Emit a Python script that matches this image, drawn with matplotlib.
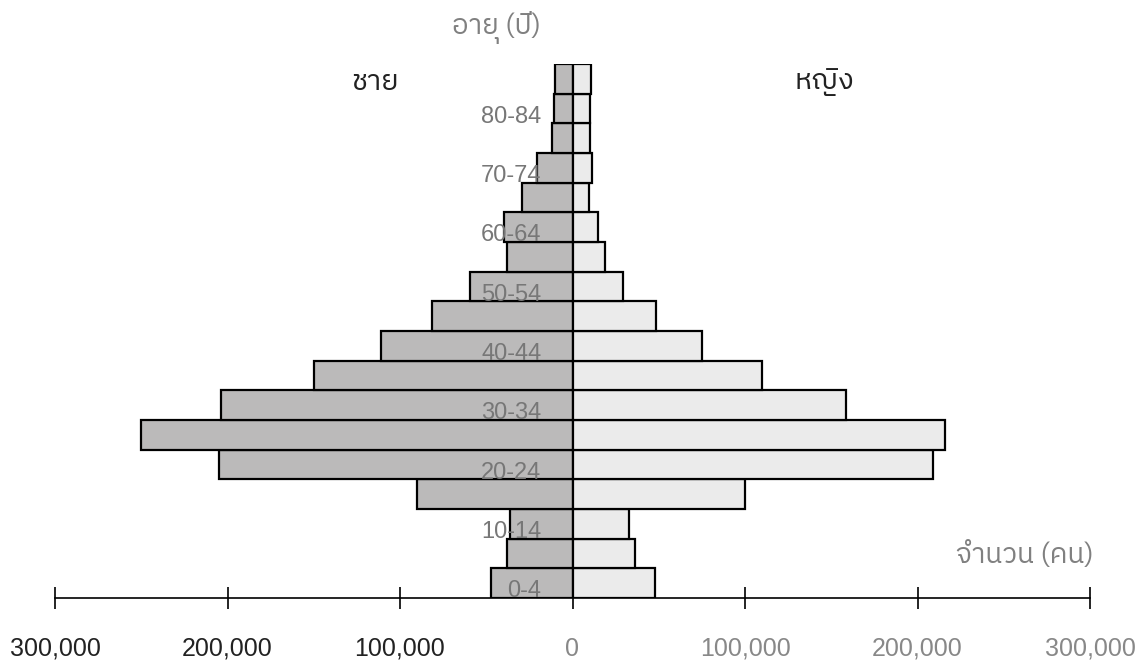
import matplotlib
matplotlib.use("Agg")
import matplotlib.pyplot as plt
from matplotlib import font_manager
from matplotlib.ticker import FuncFormatter
from fontTools.ttLib import TTFont

# age groups and population (persons)
age_groups = ["0-4", "5-9", "10-14", "15-19", "20-24", "25-29", "30-34", "35-39",
              "40-44", "45-49", "50-54", "55-59", "60-64", "65-69", "70-74",
              "75-79", "80-84", "85+"]
male = [47500, 37800, 36300, 90000, 204800, 250000, 204000, 149600,
        111000, 81500, 59200, 37800, 40000, 29300, 20300, 11700, 10500, 9900]
female = [47600, 36300, 32900, 100000, 209000, 216000, 158400, 109700,
          75200, 48600, 29400, 19100, 15000, 9300, 11500, 9900, 9900, 10800]
x_ticks = [-300000, -200000, -100000, 0, 100000, 200000, 300000]

# look for a proportional, regular weight font that can draw Thai
cands = []
for path in font_manager.findSystemFonts():
    try:
        f = TTFont(path, fontNumber=0, lazy=True)
        cmap = f.getBestCmap()
        if cmap and 0x0E0A in cmap and 0x0E0D in cmap and 0x0E34 in cmap:
            cands.append(path)
    except Exception:
        continue

def rank(path):
    score = 0
    if "Thai" in path:
        score -= 10
    if "Regular" in path:
        score -= 5
    for bad in ["Mono", "Code", "Light", "Thin", "Bold", "Black", "Medium",
                "Italic", "Condensed", "Semi", "Extra"]:
        if bad in path:
            score += 20
    return score

cands.sort(key=rank)
num_font = ["Liberation Sans", "DejaVu Sans"]
thai_prop = None
if cands:
    thai_prop = font_manager.FontProperties(fname=cands[0])

fig = plt.figure(figsize=(11.42, 6.66), dpi=100)
ax = fig.add_axes([55 / 1142, 68 / 666, 1035 / 1142, 534 / 666])

ypos = list(range(len(age_groups)))
ax.barh(ypos, [-m for m in male], height=1, align="edge", color="#bbbaba",
        edgecolor="black", linewidth=1.6)
ax.barh(ypos, female, height=1, align="edge", color="#ebebeb",
        edgecolor="black", linewidth=1.6)

ax.set_xlim(-300000, 300000)
ax.set_ylim(0, len(age_groups))

for s in ["top", "left", "right"]:
    ax.spines[s].set_visible(False)
ax.spines["bottom"].set_linewidth(1.2)
ax.set_yticks([])
ax.set_xticks(x_ticks)
ax.xaxis.set_major_formatter(FuncFormatter(lambda v, p: f"{abs(int(v)):,}"))
ax.tick_params(axis="x", direction="inout", length=16, width=1.2, pad=20,
               labelsize=18)
for lbl, v in zip(ax.get_xticklabels(), x_ticks):
    lbl.set_fontfamily(num_font)
    if v < 0:
        lbl.set_color("#222222")
    else:
        lbl.set_color("#888888")

# age labels (every second group)
for i, g in enumerate(age_groups):
    if i % 2 == 0:
        ax.text(-18000, i + 0.22, g, ha="right", va="center", fontsize=17,
                color="#777777", fontfamily=num_font)

def thai_text(x, y, s, size, color):
    if thai_prop is not None:
        p = thai_prop.copy()
        p.set_size(size)
        fig.text(x, y, s, ha="center", va="center", fontproperties=p, color=color)
    else:
        fig.text(x, y, s, ha="center", va="center", fontsize=size, color=color)

thai_text(496 / 1142, 1 - 27 / 666, "อายุ (ปี)", 20, "#808080")
thai_text(375 / 1142, 1 - 82 / 666, "ชาย", 21, "#222222")
thai_text(824 / 1142, 1 - 82 / 666, "หญิง", 21, "#222222")
thai_text(1025 / 1142, 1 - 555 / 666, "จำนวน (คน)", 20, "#808080")

fig.savefig("out.png", dpi=100)
